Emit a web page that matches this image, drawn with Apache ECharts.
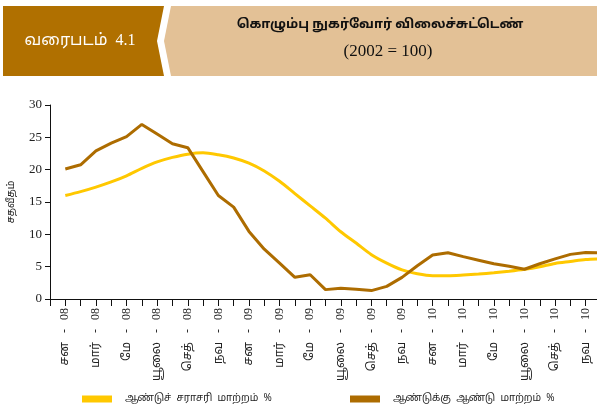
<!DOCTYPE html>
<html>
<head>
<meta charset="utf-8">
<script src="https://cdn.jsdelivr.net/npm/echarts@6/dist/echarts.min.js"></script>
<style>
  html, body { margin: 0; padding: 0; background: #fff; }
  #chart { width: 597px; height: 418px; }
</style>
</head>
<body>
<div id="chart"></div>
<script>
const monthNames = ["சன", "பெப்", "மார்", "ஏப்", "மே", "யூன்", "யூலை", "ஓக", "செத்", "ஒக்", "நவ", "டிச"];
const years = ["08", "09", "10"];
// leading blank slot keeps the first month one step in from the axis
const categories = [""];
years.forEach((y) => monthNames.forEach((m) => categories.push(m + "   -   " + y)));

const annualAvg = [null,
  16.0, 16.6, 17.3, 18.1, 19.05, 20.2, 21.2, 21.9, 22.4, 22.6, 22.3, 21.8,
  21.0, 19.8, 18.2, 16.3, 14.4, 12.5, 10.4, 8.65, 6.85, 5.55, 4.5, 3.9,
  3.6, 3.6, 3.7, 3.85, 4.05, 4.3, 4.6, 5.0, 5.5, 5.8, 6.1, 6.2];
const yearOnYear = [null,
  20.1, 20.75, 22.9, 24.1, 25.1, 27.0, 25.5, 24.0, 23.4, 19.7, 16.0, 14.2,
  10.45, 7.7, 5.55, 3.35, 3.75, 1.45, 1.65, 1.5, 1.3, 1.95, 3.35, 5.15,
  6.8, 7.15, 6.55, 6.0, 5.45, 5.05, 4.6, 5.45, 6.2, 6.9, 7.2, 7.15];

const nameAvg = "ஆண்டுச்  சராசரி  மாற்றம்  %";
const nameYoY = "ஆண்டுக்கு  ஆண்டு  மாற்றம்  %";

const serif = "'Liberation Serif', 'DejaVu Serif', serif";
const tamil = "'Noto Sans Tamil', 'Lohit Tamil', 'Latha', 'Noto Sans', sans-serif";
const mixed = "'Liberation Serif', 'Noto Sans Tamil', 'Lohit Tamil', serif";

const chart = echarts.init(document.getElementById("chart"), null, { renderer: "canvas" });
chart.setOption({
  animation: false,
  grid: { left: 50, right: -4, top: 105, bottom: 119, outerBoundsMode: "none" },
  graphic: [
    { type: "polygon", shape: { points: [[3, 6], [164, 6], [157, 41], [164, 76], [3, 76]] }, style: { fill: "#b07000" } },
    { type: "polygon", shape: { points: [[171, 6], [597, 6], [597, 76], [171, 76], [164, 41]] }, style: { fill: "#e3c196" } },
    { type: "text", x: 80, y: 41, style: { text: "வரைபடம்  4.1", fill: "#fff", font: "16px " + mixed, align: "center", verticalAlign: "middle" } },
    { type: "text", x: 380, y: 25, style: { text: "கொழும்பு நுகர்வோர் விலைச்சுட்டெண்", fill: "#111", font: "bold 13px " + tamil, align: "center", verticalAlign: "middle" } },
    { type: "text", x: 388, y: 52, style: { text: "(2002 = 100)", fill: "#111", font: "17px " + serif, align: "center", verticalAlign: "middle" } }
  ],
  legend: [
    { data: [nameAvg], left: 77, top: 389, icon: "rect", itemWidth: 30, itemHeight: 7, itemGap: 10,
      textStyle: { fontFamily: tamil, fontSize: 10, color: "#222", padding: [0, 0, 0, 8] } },
    { data: [nameYoY], left: 345, top: 389, icon: "rect", itemWidth: 30, itemHeight: 7, itemGap: 10,
      textStyle: { fontFamily: tamil, fontSize: 10, color: "#222", padding: [0, 0, 0, 8] } }
  ],
  xAxis: {
    type: "category",
    data: categories,
    boundaryGap: false,
    axisLine: { lineStyle: { color: "#111", width: 1 } },
    axisTick: { show: true, length: 7, interval: 0, lineStyle: { color: "#111" } },
    axisLabel: {
      rotate: 90,
      interval: (i) => i % 2 === 1,
      fontFamily: mixed,
      fontSize: 12,
      color: "#222",
      margin: 9
    },
    splitLine: { show: false }
  },
  yAxis: {
    type: "value",
    min: 0,
    max: 30,
    interval: 5,
    name: "சதவீதம்",
    nameLocation: "middle",
    nameRotate: 90,
    nameGap: 33,
    nameTextStyle: { fontFamily: tamil, fontSize: 10, color: "#222" },
    axisLine: { show: true, lineStyle: { color: "#111", width: 1 } },
    axisTick: { show: true, length: 5, lineStyle: { color: "#111" } },
    axisLabel: { fontFamily: serif, fontSize: 13, color: "#222", margin: 8 },
    splitLine: { show: false }
  },
  series: [
    {
      name: nameAvg,
      type: "line",
      data: annualAvg,
      smooth: 0.3,
      showSymbol: false,
      itemStyle: { color: "#ffc800" },
      lineStyle: { width: 3, color: "#ffc800" }
    },
    {
      name: nameYoY,
      type: "line",
      data: yearOnYear,
      showSymbol: false,
      itemStyle: { color: "#ad6c00" },
      lineStyle: { width: 3, color: "#ad6c00" }
    }
  ]
});
</script>
</body>
</html>
